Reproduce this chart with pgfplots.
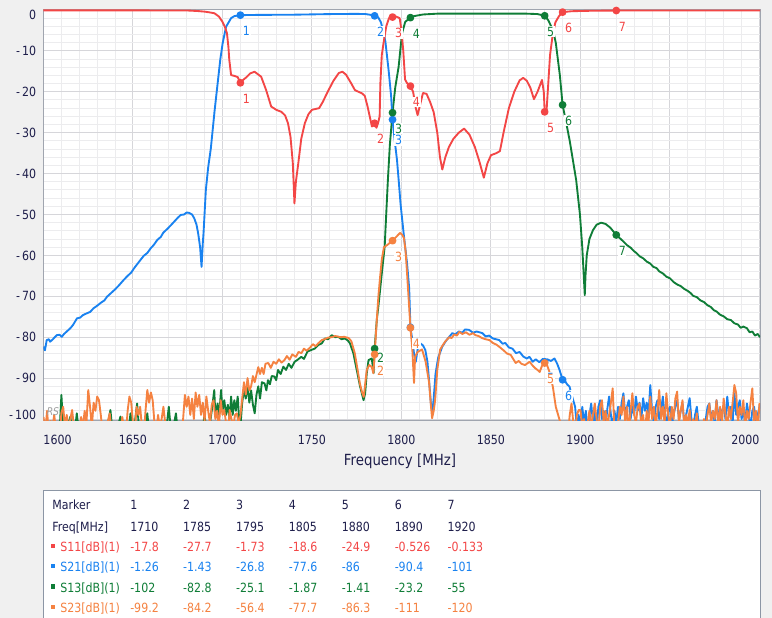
\documentclass[border=0pt]{standalone}
\usepackage{pgfplots}
\pgfplotsset{compat=1.18}
\usepackage{fontspec}
\setmainfont[FakeStretch=0.87]{DejaVu Sans}
\definecolor{cSa}{RGB}{243,70,70}
\definecolor{cSb}{RGB}{25,130,240}
\definecolor{cSc}{RGB}{15,125,55}
\definecolor{cSd}{RGB}{245,130,65}
\definecolor{txt}{RGB}{30,30,75}
\definecolor{bgc}{RGB}{240,240,240}
\definecolor{gmaj}{RGB}{214,214,218}
\definecolor{gmin}{RGB}{236,236,238}
\definecolor{frm}{RGB}{160,165,175}
\definecolor{tfrm}{RGB}{140,150,165}
\newcommand{\yl}[2]{\raisebox{#1}[0pt][0pt]{#2}}
\begin{document}
\begin{tikzpicture}
\useasboundingbox (0pt,0pt) rectangle (579pt,-463.5pt);
\fill[bgc] (0pt,0pt) rectangle (579pt,-463.5pt);
\begin{axis}[
 at={(32.625pt,-315pt)}, anchor=south west,
 scale only axis, width=537.375pt, height=308.25pt,
 xmin=1600, xmax=2000.3, ymin=-100.24, ymax=0.24,
 axis background/.style={fill=white},
 axis line style={frm, line width=0.75pt},
 major tick length=0pt, minor tick length=0pt,
 xtick={1600,1650,1700,1750,1800,1850,1900,1950,2000},
 xticklabels={\rlap{1600},1650,1700,1750,1800,1850,1900,1950,\llap{2000}},
 ytick={-100,-90,-80,-70,-60,-50,-40,-30,-20,-10,0},
 yticklabels={\yl{-0.5pt}{-\,100},\yl{-3.5pt}{-\,90},\yl{-3.5pt}{-\,80},\yl{-3.5pt}{-\,70},\yl{-3.5pt}{-\,60},\yl{-3.5pt}{-\,50},\yl{-3.5pt}{-\,40},\yl{-3.5pt}{-\,30},\yl{-3.5pt}{-\,20},\yl{-3.5pt}{-\,10},\yl{-7.2pt}{0}},
 minor x tick num=4, minor y tick num=4,
 grid=both,
 major grid style={gmaj, line width=0.75pt},
 minor grid style={gmin, line width=0.75pt},
 ticklabel style={font=\fontsize{9.5}{11}\selectfont, text=txt},
 xticklabel style={yshift=-8pt},
 yticklabel style={xshift=-2pt},
 every axis plot/.append style={line width=1.4pt, line join=round},
 mlab/.style={every node near coord/.append style={font=\fontsize{9.5}{10}\selectfont, text=#1, fill=white, inner sep=0.5pt, anchor=center, xshift=4.5pt, yshift=-12pt}},
]
% S13 green
\addplot[cSc] coordinates {
(1600,-103) (1602,-105) (1604,-102) (1606,-104) (1608,-101) (1609,-103) (1610,-94.1) (1611,-102) (1613,-104) (1614,-101) (1615,-99.4) (1616,-103) (1618,-101) (1618.6,-98.6) (1620,-104) (1622,-102) (1624,-105) (1626,-103) (1628,-101.5) (1630,-104) (1632,-102) (1634,-105) (1636,-101) (1637.4,-97.8) (1638.5,-103) (1640,-105) (1642,-101) (1643,-99.4) (1644,-103) (1646,-104) (1648,-101) (1648.6,-98.6) (1650,-102) (1651,-101) (1652.3,-96.2) (1653.5,-103) (1655,-104) (1657,-101) (1658,-98.6) (1659,-103) (1661,-105) (1663,-102) (1665,-104) (1667,-101) (1668.5,-103) (1670,-97) (1671,-102) (1673,-101) (1674,-98.6) (1675,-103) (1677,-105) (1679,-102) (1681,-104) (1683,-101.5) (1685,-103) (1687,-105) (1689,-102) (1690,-99) (1691,-103) (1693,-101) (1694,-98) (1695.4,-92.9) (1696,-99) (1697.3,-96.2) (1698,-100) (1699.2,-92.9) (1700,-98) (1701,-95.4) (1702,-99) (1703,-96.5) (1704,-100) (1704.8,-94.5) (1705.7,-99) (1706.6,-95.4) (1707.5,-98) (1708.5,-94.5) (1709.3,-100) (1710,-102) (1711,-96) (1712,-92.9)
(1713,-95) (1714,-92) (1715,-96) (1716,-93) (1717,-96.5) (1718,-98.6) (1719,-94) (1720,-92) (1721,-95) (1722,-91) (1723.5,-91.3) (1724.5,-93) (1725.4,-90.5) (1726.5,-91.5) (1727.5,-89.5) (1729,-89.6) (1730,-90.5) (1731,-88) (1732.5,-89) (1734,-87.2) (1735.5,-88) (1737,-86.5) (1738.5,-87.5) (1740.3,-86) (1742,-85.5) (1744,-84.8) (1745.5,-85.3) (1747.5,-83.5) (1749.7,-83.1) (1751.5,-82.8) (1753.5,-81.9) (1755.5,-81.5) (1757.2,-80.3) (1759,-80.5) (1761,-79.5) (1763,-80) (1764.7,-79.9) (1766.5,-80.5) (1768.4,-80.3) (1770,-80.8) (1771.2,-81.5) (1773.1,-83.9) (1775,-88) (1776.9,-92.1) (1778.8,-95.4) (1779.7,-93.7) (1780.6,-88.8) (1781.6,-85.6) (1783.4,-85.2) (1784.4,-88.8) (1785,-82.8) (1786.2,-75.8) (1787.2,-72) (1789,-64.4) (1790.6,-57.9) (1791.5,-49.7) (1792.4,-41.6) (1793.5,-33) (1795,-25.1) (1796.5,-19) (1798.4,-13.9) (1800.3,-5.7) (1802.1,-2.9) (1805,-1.87) (1807,-1.5) (1812,-1.1) (1820,-0.9) (1850,-0.9) (1870,-0.9) (1876,-1.0) (1878,-1.2) (1880,-1.41) (1882,-2.5) (1884.6,-4.9) (1886.2,-8) (1888.5,-16) (1890,-23.2) (1892,-27.5) (1894,-32) (1897.6,-41.6) (1899.7,-50) (1901,-58) (1902.4,-69.7) (1902.8,-65) (1903.5,-60) (1905,-56) (1907,-53.8) (1909,-52.5) (1911.5,-52) (1914,-52.3) (1916.6,-53.2) (1920,-55) (1922,-55.8) (1924,-56.6) (1926,-57.5) (1928,-58.1) (1930,-59.0) (1931.2,-59.4) (1933,-60.2) (1935,-60.7) (1937,-61.5) (1939,-62.0) (1940.7,-62.8) (1942.5,-63.1) (1944,-63.9) (1946,-64.4) (1948,-65.2) (1950,-65.6) (1952,-66.5) (1954,-67.1) (1956,-67.5) (1958,-68.2) (1960,-68.7) (1961.5,-69.2) (1963,-69.9) (1965,-70.2) (1967,-71.0) (1969,-71.4) (1971,-72.2) (1972.8,-72.6) (1974.5,-73.4) (1976,-73.7) (1978,-74.5) (1980,-74.9) (1982,-75.6) (1984,-75.8) (1986,-76.6) (1988,-76.9) (1989.5,-77.7) (1991,-77.4) (1993,-77.8) (1994.5,-78.8) (1996,-78.6) (1997.5,-79.6) (1999,-79.2) (2000.3,-80)
};
% S21 blue
\addplot[cSb] coordinates {
(1600,-82.3) (1600.8,-83.2) (1601.8,-80.7) (1603,-80.5) (1603.7,-81.1) (1605,-80.6) (1607.4,-79.5) (1609,-79.4) (1610.2,-79.9) (1611.5,-79.2) (1613,-78.6) (1615,-77.8) (1616.5,-77.0) (1618.7,-75.4) (1620.5,-75.2) (1622,-74.6) (1624,-74.2) (1626.1,-73.8) (1628,-72.9) (1630,-72.3) (1632,-71.6) (1634,-71) (1635.5,-70.1) (1638,-69.1) (1640,-68.3) (1642,-67.4) (1644.8,-66) (1647,-65) (1649,-64.2) (1651,-62.9) (1654.2,-61.1) (1656,-60.1) (1658,-59.4) (1660,-58.2) (1661.5,-57.5) (1663.6,-56.2) (1665.5,-55.5) (1667,-54.4) (1669,-53.6) (1671,-52.7) (1672.9,-51.8) (1675,-50.8) (1676.7,-50.1) (1678.5,-50.0) (1680,-49.5) (1681.3,-49.6) (1683,-50.0) (1684.2,-50.9) (1685.5,-52.5) (1686.4,-54.6) (1687.5,-58) (1688.3,-62.8) (1689,-57) (1689.4,-54.6) (1690.7,-44) (1692,-38.5) (1693.5,-33.8) (1695.5,-25) (1697.3,-17.9) (1698.8,-12) (1700.1,-8.1) (1702,-4.1) (1704.8,-2.0) (1706.6,-1.5) (1710,-1.26) (1720,-1.2) (1740,-1.15) (1760,-1.0) (1775,-0.95) (1780,-1.0) (1783,-1.2) (1785,-1.43) (1787,-1.8) (1788.5,-3) (1790,-5.5) (1791,-7.7) (1792.8,-14.7) (1794.2,-21) (1795,-26.8) (1796.5,-33) (1797.5,-36.7) (1798.5,-42) (1799.5,-47.5) (1801.2,-54.6) (1803.1,-61.9) (1804.3,-68) (1805,-77.6) (1806,-80.5) (1807,-84) (1808,-86) (1809,-83) (1810.5,-81.5) (1812,-82) (1813.3,-83.1) (1814.5,-86) (1815.5,-91) (1816.5,-96.5) (1817.2,-98.5) (1818,-95) (1819,-89) (1820.5,-85) (1822.8,-82.3) (1825,-80.8) (1828.4,-79) (1830,-79.3) (1832.1,-78.6) (1834,-78.9) (1835.5,-78.1) (1837.7,-78.2) (1840,-78.9) (1842,-78.6) (1845.2,-79) (1847,-79.8) (1849,-79.6) (1851,-80.3) (1854.6,-80.7) (1856.5,-81.6) (1858,-81.4) (1860,-82.5) (1862,-82.8) (1864,-83.9) (1866,-83.6) (1868,-84.7) (1870,-85.2) (1871.5,-84.8) (1873.3,-86) (1875,-85.4) (1877,-86.1) (1879,-85.3) (1880,-86) (1881.5,-85.4) (1883.5,-85.8) (1885.5,-85.2) (1887,-86.5) (1888.3,-88) (1890,-90.4) (1891.1,-90.5) (1892.5,-91.5) (1893.9,-92.1) (1895,-94) (1896,-95.5)
(1897,-97) (1898,-102) (1899,-99) (1900,-103) (1901,-97) (1902,-101) (1903,-98) (1904,-103) (1905,-99) (1906,-96.2) (1907,-101) (1908,-98) (1909,-103) (1910,-97) (1911,-95.4) (1912,-100) (1913,-98) (1914,-102) (1915,-97.5) (1916,-94.5) (1917,-99) (1918,-102) (1919,-98) (1920,-101) (1921,-97) (1922,-100) (1923,-96) (1924,-93.7) (1925,-99) (1926,-97) (1927,-95.4) (1928,-100) (1929,-97) (1930,-99) (1931,-94.5) (1932,-98) (1933,-96) (1934,-100) (1935,-94.9) (1936,-98) (1937,-96) (1938,-99) (1939,-91.7) (1940,-98) (1941,-101) (1942,-97) (1943,-95.4) (1944,-100) (1945,-98) (1946,-94.5) (1947,-99) (1948,-101) (1949,-98) (1950,-97) (1951,-102) (1952,-99) (1953,-97) (1954,-95.4) (1955,-100) (1956,-98) (1957,-96.2) (1958,-101) (1959,-99) (1960,-97) (1961,-94.9) (1962,-100) (1963,-102) (1964,-99) (1965,-97) (1966,-101) (1967,-103) (1968,-102) (1969,-104) (1970,-100) (1971,-97) (1972,-96.2) (1973,-100) (1974,-98) (1975,-101) (1976,-95.4) (1977,-99) (1978,-102) (1979,-98) (1980,-97) (1981,-100) (1982,-94.5) (1983,-99) (1984,-97) (1985,-101) (1986,-93.7) (1987,-99) (1988,-97) (1989,-95.4) (1990,-100) (1991,-98) (1992,-101) (1993,-96.2) (1994,-99) (1995,-102) (1996,-98) (1997,-97) (1998,-101) (1999,-99) (2000,-97) (2000.3,-96.2)
};
% S23 orange
\addplot[cSd] coordinates {
(1600,-99.5) (1601,-103) (1602,-98) (1603,-104) (1604,-100.5) (1605,-102) (1606,-99) (1607,-103) (1608,-101) (1609,-104) (1610,-98.5) (1611,-97) (1612,-102) (1613,-99) (1614,-103) (1615,-100) (1616,-97.8) (1617,-102) (1618,-104) (1619,-101) (1620,-103) (1621,-99.5) (1622,-102) (1623,-98) (1624,-101) (1625,-92.9) (1626,-97) (1627,-102) (1628,-96) (1629,-98) (1630,-94.5) (1631,-95.4) (1632,-99) (1633,-103) (1634,-101) (1635,-104) (1636,-100.5) (1637,-98.6) (1638,-103) (1639,-105) (1640,-102) (1641,-104) (1642,-101) (1643,-103) (1644,-99.5) (1645,-102) (1646,-104) (1647,-98) (1648,-94.5) (1649,-96) (1650,-101) (1651,-103) (1652,-97) (1653,-99) (1654,-97) (1655,-102) (1656,-104) (1657,-98) (1658,-92.9) (1659,-96) (1660,-93.5) (1661,-95.4) (1662,-101) (1663,-103) (1664,-99) (1665,-102) (1666,-100) (1667,-97) (1668,-101) (1669,-104) (1670,-102) (1671,-105) (1672,-103) (1673,-101) (1674,-104) (1675,-102) (1676,-105) (1677,-103) (1678,-100) (1679,-94.1) (1680,-97) (1681,-94.5) (1682,-99) (1683,-95) (1684,-100) (1685,-93.5) (1686,-97) (1687,-94.1) (1688,-99) (1689,-96) (1690,-100.5) (1691,-94.5) (1692,-98) (1693,-101) (1694,-96.5) (1695,-95.4) (1696,-100) (1697,-98) (1698,-102) (1699,-95.4) (1700,-99) (1701,-97.8) (1702,-101) (1703,-104) (1704,-97.8) (1705,-100) (1706,-102) (1707,-99) (1708,-98.6) (1709,-101) (1710,-99.2) (1711,-95)
(1712,-91) (1713,-94) (1714,-90) (1715,-93) (1716,-92) (1717,-89.5) (1718,-91) (1720,-87.3) (1721,-89) (1722,-87.5) (1723,-89) (1724,-86.5) (1725.6,-86.3) (1727,-87.5) (1728.5,-86) (1730,-86.5) (1731.5,-85.4) (1733,-86.2) (1734.6,-85.6) (1736,-84.6) (1737.5,-85.5) (1739,-84.2) (1741,-84.8) (1742.5,-83.6) (1744.1,-83.9) (1745.5,-82.8) (1747,-83.3) (1749,-82.5) (1750.5,-81.7) (1752,-82.2) (1753.7,-81.4) (1755.5,-80.7) (1757,-80.5) (1759,-80.1) (1761,-80) (1763,-79.7) (1766,-80) (1768,-79.9) (1770.5,-80.2) (1772,-81) (1773.9,-83.9) (1775.5,-88) (1776.7,-91.2) (1778,-93.5) (1778.9,-94.6) (1779.7,-91.5) (1780.6,-88) (1782,-86.8) (1783.4,-87.3) (1784.3,-88.8) (1785,-84.2) (1786.2,-75.8) (1787.1,-70) (1787.9,-66) (1789,-61) (1790.2,-58) (1791.9,-57.5) (1793.3,-57.0) (1795,-56.4) (1797,-55.5) (1799.2,-54.5) (1800.5,-55) (1801.4,-55.8) (1802.3,-59) (1803.1,-64.3) (1804.2,-72) (1805,-77.7) (1806,-82.5) (1807,-91.2) (1807.6,-84.8) (1809,-83.6) (1811.5,-83) (1813.5,-86) (1815.4,-91) (1816.3,-96) (1817.1,-99.8) (1818,-98) (1818.8,-95.4) (1820,-88) (1821.6,-83) (1823,-82) (1824.5,-81) (1826.7,-80) (1828,-80.2) (1829.5,-79.3) (1831,-79.6) (1832.3,-78.7) (1834,-79.2) (1836,-78.8) (1838,-79.4) (1840,-79) (1841.3,-79.5) (1843,-79.7) (1845,-80.2) (1847,-80.5) (1849.2,-80.7) (1851,-81.4) (1853,-81.8) (1854.8,-82.4) (1857,-83.2) (1859,-84) (1861,-84.3) (1863.8,-86.3) (1865.5,-85.8) (1867,-86.5) (1869,-86.8) (1871.6,-86) (1873,-86.8) (1874.5,-87.5) (1876,-88) (1877.2,-88.5) (1878.5,-87) (1880,-86.3) (1881.5,-87) (1882.9,-88.8) (1884.6,-92.2) (1886.2,-97) (1888.5,-100.5)
(1889,-102) (1890,-111) (1891,-103) (1892,-101) (1893,-104) (1894,-99) (1895,-96.2) (1896,-101) (1897,-103) (1898,-99) (1899,-97.8) (1900,-97.8) (1901,-102) (1902,-100) (1903,-104) (1904,-101) (1905,-98) (1906,-102) (1907,-99) (1908,-96.2) (1909,-100) (1910,-103) (1911,-97) (1912,-95.4) (1913,-101) (1914,-98) (1915,-102) (1916,-99) (1917,-96) (1918,-92.5) (1919,-103) (1920,-120) (1921,-101) (1922,-97) (1923,-99) (1924,-94.5) (1925,-101) (1926,-97) (1927,-103) (1928,-98) (1929,-93.7) (1930,-99) (1931,-101) (1932,-97) (1933,-96.2) (1934,-102) (1935,-99) (1936,-104) (1937,-98) (1938,-101) (1939,-94.5) (1940,-100) (1941,-97) (1942,-102) (1943,-98) (1944,-92.9) (1945,-100) (1946,-97) (1947,-101) (1948,-93.7) (1949,-99) (1950,-102) (1951,-97) (1952,-100) (1953,-95) (1954,-93.3) (1955,-101) (1956,-98) (1957,-95.4) (1958,-102) (1959,-99) (1960,-101) (1961,-97.8) (1962,-103) (1963,-100) (1964,-102) (1965,-98.6) (1966,-104) (1967,-101) (1968,-103) (1969,-100) (1970,-102) (1971,-99) (1972,-96.2) (1973,-101) (1974,-98) (1975,-100) (1976,-95.4) (1977,-102) (1978,-97) (1979,-101) (1980,-95) (1981,-99) (1982,-102) (1983,-97) (1984,-100) (1985,-96) (1986,-91.7) (1987,-93.7) (1988,-101) (1989,-97) (1990,-99) (1991,-95.4) (1992,-102) (1993,-98) (1994,-100) (1995,-96) (1996,-92.5) (1997,-101) (1998,-98) (1999,-103) (2000,-96.2) (2000.3,-98)
};
% S11 red
\addplot[cSa] coordinates {
(1600,-0.10) (1640,-0.10) (1680,-0.12) (1686,-0.25) (1690,-0.4) (1693,-0.6) (1695.5,-0.8) (1698,-1.6) (1700,-2.9) (1701.5,-4.3) (1702.5,-5.7) (1703.3,-9) (1703.8,-12.2) (1704.8,-15.9) (1706.5,-16.1) (1708.5,-16.4) (1710,-17.8) (1711,-17.3) (1713.2,-16.5) (1715.5,-15.5) (1717.9,-15.1) (1721.6,-16.3) (1724.4,-19.6) (1727.2,-23.6) (1730,-24.4) (1732.9,-24.9) (1735,-25.8) (1736.6,-27.7) (1738,-31) (1739.3,-37.5) (1740.2,-47.3) (1741,-42) (1742.2,-38) (1744,-31.5) (1746,-27.7) (1748,-25.5) (1750,-24.4) (1754,-24.0) (1756,-22.5) (1759,-19.8) (1762,-17.3) (1765,-15.4) (1767,-15.1) (1769,-15.8) (1772,-18.0) (1774,-19.6) (1776,-20.0) (1778,-20.4) (1779.5,-21) (1781,-23.5) (1782.5,-26.5) (1783.5,-28.5) (1784,-27.2) (1785,-27.7) (1786,-28.8) (1787,-27.5) (1787.8,-26) (1788.2,-18) (1789,-11) (1790,-8) (1791.5,-4) (1793,-2.0) (1795,-1.73) (1797,-1.6) (1799,-2.0) (1800,-5) (1801,-10) (1802,-17) (1803,-17.8) (1804,-18.3) (1805,-18.6) (1806.5,-20) (1808,-24) (1809,-25.7) (1810.5,-23) (1812,-20.3) (1814,-20.5) (1816,-22.5) (1818,-25) (1820,-30) (1821.5,-36) (1822.8,-39) (1824.5,-36) (1826.5,-33.5) (1829,-31.5) (1832,-30) (1835,-29) (1838,-30.5) (1841,-33.5) (1843.5,-37) (1846,-41) (1848,-37.5) (1850,-35.5) (1853,-35) (1855,-34.5) (1857,-30) (1860,-24) (1863,-20) (1866,-17.2) (1868,-16.6) (1870,-17.3) (1872,-19) (1874,-21.8) (1876,-20) (1878.5,-17.1) (1879.5,-20) (1880,-24.9) (1881,-25) (1882,-18) (1883,-11) (1884.5,-6) (1886,-3) (1888,-1.5) (1890,-0.526) (1895,-0.3) (1905,-0.2) (1920,-0.133) (2000.3,-0.12)
};
% markers
\addplot[only marks, mark=*, mark size=2.2pt, mark options={fill=cSb, draw=cSb}, nodes near coords, point meta=explicit symbolic, mlab=cSb]
 coordinates {(1710,-1.26) [1] (1785,-1.43) [2] (1805,-77.6) [4] (1880,-86) [5] (1890,-90.4) [6]};
\addplot[only marks, mark=*, mark size=2.2pt, mark options={fill=cSb, draw=cSb}, nodes near coords, point meta=explicit symbolic, mlab=cSb,
 every node near coord/.append style={yshift=-3.5pt}]
 coordinates {(1795,-26.8) [3]};
\addplot[only marks, mark=*, mark size=2.2pt, mark options={fill=cSc, draw=cSc}, nodes near coords, point meta=explicit symbolic, mlab=cSc]
 coordinates {(1795,-25.1) [3] (1805,-1.87) [4] (1880,-1.41) [5] (1890,-23.2) [6] (1920,-55) [7]};
\addplot[only marks, mark=*, mark size=2.2pt, mark options={fill=cSc, draw=cSc}, nodes near coords, point meta=explicit symbolic, mlab=cSc,
 every node near coord/.append style={yshift=5.5pt}]
 coordinates {(1785,-82.8) [2]};
\addplot[only marks, mark=*, mark size=2.2pt, mark options={fill=cSd, draw=cSd}, nodes near coords, point meta=explicit symbolic, mlab=cSd]
 coordinates {(1785,-84.2) [2] (1795,-56.4) [3] (1805,-77.7) [4] (1880,-86.3) [5]};
\addplot[only marks, mark=*, mark size=2.2pt, mark options={fill=cSa, draw=cSa}, nodes near coords, point meta=explicit symbolic, mlab=cSa]
 coordinates {(1710,-17.8) [1] (1785,-27.7) [2] (1795,-1.73) [3] (1805,-18.6) [4] (1880,-24.9) [5] (1890,-0.526) [6] (1920,-0.133) [7]};
\end{axis}
\begin{scope}[x=0.75pt,y=-0.75pt]
\node[anchor=base west, inner sep=0, text=gray!75, font=\fontsize{8}{8}\selectfont\itshape] at (46.5,415.5) {RS};
\node[text=txt, font=\fontsize{11.5}{13}\selectfont] at (400,461) {Frequency [MHz]};
\draw[tfrm, fill=white, line width=0.75pt] (43.5,490) rectangle (760,640);
\tikzset{cell/.style={anchor=base west, inner sep=0, font=\fontsize{9.5}{11}\selectfont}}
\node[cell, text=txt] at (52,509.7) {Marker};
\node[cell, text=txt] at (52,531.2) {Freq[MHz]};
\fill[cSa] (50.7,543.5) rectangle (55,548);
\fill[cSb] (50.7,563.5) rectangle (55,568);
\fill[cSc] (50.7,584) rectangle (55,588.5);
\fill[cSd] (50.7,604.5) rectangle (55,609);
\node[cell, text=cSa] at (60,551.7) {S11[dB](1)};
\node[cell, text=cSb] at (60,571.7) {S21[dB](1)};
\node[cell, text=cSc] at (60,592.2) {S13[dB](1)};
\node[cell, text=cSd] at (60,612.7) {S23[dB](1)};
\foreach \v [count=\i from 0] in {1,2,3,4,5,6,7} \node[cell, text=txt] at ({130+52.9*\i},509.7) {\v};
\foreach \v [count=\i from 0] in {1710,1785,1795,1805,1880,1890,1920} \node[cell, text=txt] at ({130+52.9*\i},531.2) {\v};
\foreach \v [count=\i from 0] in {-17.8,-27.7,-1.73,-18.6,-24.9,-0.526,-0.133} \node[cell, text=cSa] at ({130+52.9*\i},551.7) {\v};
\foreach \v [count=\i from 0] in {-1.26,-1.43,-26.8,-77.6,-86,-90.4,-101} \node[cell, text=cSb] at ({130+52.9*\i},571.7) {\v};
\foreach \v [count=\i from 0] in {-102,-82.8,-25.1,-1.87,-1.41,-23.2,-55} \node[cell, text=cSc] at ({130+52.9*\i},592.2) {\v};
\foreach \v [count=\i from 0] in {-99.2,-84.2,-56.4,-77.7,-86.3,-111,-120} \node[cell, text=cSd] at ({130+52.9*\i},612.7) {\v};
\end{scope}
\end{tikzpicture}
\end{document}
